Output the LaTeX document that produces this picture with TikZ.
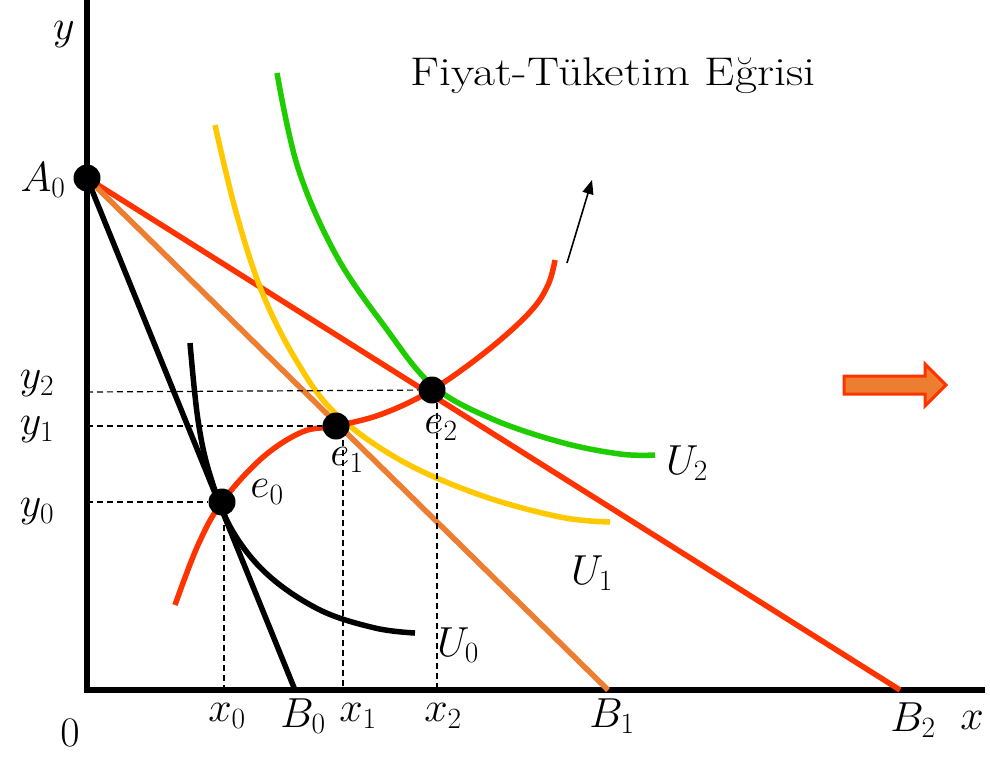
\documentclass[tikz,border=0pt]{standalone}
\usepackage{fix-cm}
\usepackage{amsmath,amssymb}
\usetikzlibrary{arrows.meta}

\definecolor{budred}{RGB}{255,51,0}
\definecolor{budorange}{RGB}{237,125,49}
\definecolor{indyellow}{RGB}{255,200,0}
\definecolor{indgreen}{RGB}{30,204,0}

\begin{document}
\begin{tikzpicture}[x=1pt,y=-1pt,
lbl/.style={font=\fontsize{42}{46}\selectfont,inner sep=0pt},
axis/.style={line width=6pt},
budget/.style={line width=5.5pt},
curve/.style={line width=5.5pt,line join=round},
guide/.style={line width=1.2pt,dash pattern=on 6pt off 4pt},
dot/.style={circle,fill=black,minimum size=27pt,inner sep=0pt} ]

\useasboundingbox (0,0) rectangle (990,763);

% axes
\coordinate (O) at (87,690);
\coordinate (ytop) at (87,0);
\coordinate (xend) at (985,690);
\draw[axis] (ytop) -- (O) -- (xend);

% budget lines
\coordinate (A0) at (87,178);
\coordinate (B0) at (295,690);
\coordinate (B1) at (608,690);
\coordinate (B2) at (900,690);
\draw[budget,budred] (A0) -- (B2);
\draw[budget,budorange] (A0) -- (B1);
\draw[budget,black] (A0) -- (B0);

% indifference curves
\draw[curve,black] plot[smooth,tension=0.6] coordinates {(190,343) (198,420) (210,475) (232,530) (268,575) (320,610) (375,628) (415,633)};
\draw[curve,indyellow] plot[smooth,tension=0.6] coordinates {(215,125) (236,212) (262,292) (296,360) (335,413) (400,460) (480,495) (560,517) (610,522)};
\draw[curve,indgreen] plot[smooth,tension=0.6] coordinates {(277,73) (298,168) (336,255) (385,327) (432,385) (490,418) (560,442) (620,454) (655,455)};

% price-consumption curve
\draw[curve,budred] plot[smooth,tension=0.6] coordinates {(175,605) (198,545) (222,502) (262,458) (302,432) (336,426) (382,414) (432,390) (488,350) (530,312) (548,285) (555,260)};

% equilibrium points
\node[dot] (e0) at (222,502) {};
\node[dot] (e1) at (336,426) {};
\node[dot] (e2) at (432,390) {};
\node[dot] (a0) at (87,178) {};

% guide lines
\coordinate (gy0) at (87,502);
\coordinate (gy1) at (87,426);
\coordinate (gy2) at (87,392);
\coordinate (gx0) at (224,690);
\coordinate (gx1) at (343,690);
\coordinate (gx2) at (437,690);
\coordinate (d0) at (224,515);
\coordinate (d1) at (343,440);
\coordinate (d2) at (437,403);
\draw[guide] (gy0) -- (e0);
\draw[guide] (gy1) -- (e1);
\draw[guide] (gy2) -- (e2);
\draw[guide] (d0) -- (gx0);
\draw[guide] (d1) -- (gx1);
\draw[guide] (d2) -- (gx2);

% direction arrows
\coordinate (ar1) at (567,263);
\coordinate (ar2) at (592,180);
\draw[line width=1.6pt,-{Triangle[length=14pt,width=11pt]}] (ar1) -- (ar2);
\draw[line width=3pt,budred,fill=budorange,line join=miter]
  (844,376) -- (925,376) -- (925,364) -- (946,385) -- (925,406) -- (925,394) -- (844,394) -- cycle;

% labels
\node[lbl] (ly) at (64,35) {$y$};
\node[lbl] (lA0) at (43,180) {$A_0$};
\node[lbl] (ly2) at (37,384) {$y_2$};
\node[lbl] (ly1) at (37,430) {$y_1$};
\node[lbl] (ly0) at (37,512) {$y_0$};
\node[lbl] (lo) at (70,733) {$0$};
\node[lbl] (lx0) at (227,716) {$x_0$};
\node[lbl] (lB0) at (303,716) {$B_0$};
\node[lbl] (lx1) at (358,716) {$x_1$};
\node[lbl] (lx2) at (443,716) {$x_2$};
\node[lbl] (lB1) at (612,716) {$B_1$};
\node[lbl] (lB2) at (913,720) {$B_2$};
\node[lbl] (lx) at (972,720) {$x$};
\node[lbl] (le0) at (267,492) {$e_0$};
\node[lbl] (le1) at (347,460) {$e_1$};
\node[lbl] (le2) at (441,428) {$e_2$};
\node[lbl] (lU0) at (458,645) {$U_0$};
\node[lbl] (lU1) at (592,573) {$U_1$};
\node[lbl] (lU2) at (687,463) {$U_2$};
\node[font=\fontsize{40}{44}\selectfont,inner sep=0pt] (title) at (613,76) {\scalebox{1.2}[1]{Fiyat-Tüketim Eğrisi}};

\end{tikzpicture}
\end{document}
